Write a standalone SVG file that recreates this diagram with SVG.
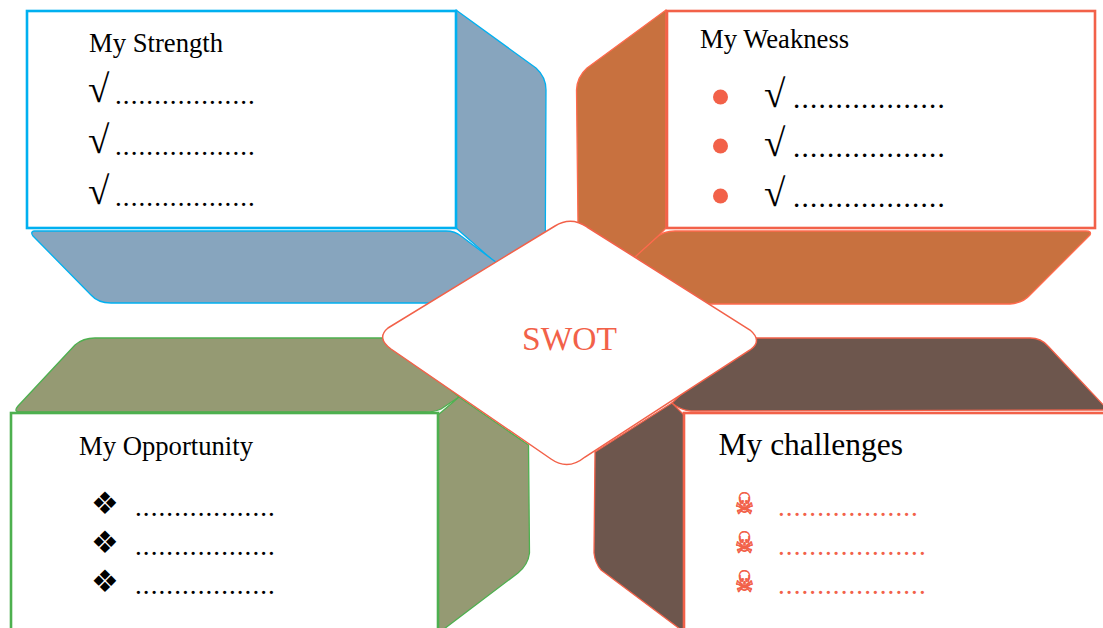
<svg xmlns="http://www.w3.org/2000/svg" width="1103" height="628" viewBox="0 0 1103 628">
<style>
.s{font-family:"Liberation Serif","Times New Roman",serif;fill:#000}
.t{font-size:26.67px}
.c{font-size:39px}
.d{font-size:27px;letter-spacing:1.08px}
.w{font-size:29px;letter-spacing:1.25px}
.r{fill:#f26149}
.g{font-family:"DejaVu Sans",sans-serif}
.dm{font-size:31px}
.sk{font-size:21px;stroke:#f26149;stroke-width:.6}
.box{fill:#fff;stroke-width:2.600}
.face{stroke-width:1.300;stroke-linejoin:round}
</style>
<rect width="1103" height="628" fill="#fff"/>
<g id="strength">
<path class="face" fill="#87a5be" stroke="#00b0f0" d="M456,10 L536,68 Q546,77 546,90 L545,300 L497,264 L456,228 Z"/>
<path class="face" fill="#87a5be" stroke="#00b0f0" d="M34,231 L446,231 Q455,231 461,236 L497,263 L430,303 L111,303 Q98,303 91,295 L33,236 Q30,232 34,231 Z"/>
<rect class="box" x="27" y="11" width="429" height="217" stroke="#00b0f0"/>
<text class="s t" x="89" y="52">My Strength</text>
<text class="s c" x="88" y="102">√</text><text class="s d" x="115" y="103.500">..................</text>
<text class="s c" x="88" y="153">√</text><text class="s d" x="115" y="154.500">..................</text>
<text class="s c" x="88" y="204">√</text><text class="s d" x="115" y="205.500">..................</text>
</g>
<g id="weakness">
<path class="face" fill="#c8713f" stroke="#ff6a4d" d="M666,10 L587,68 Q577,77 576.500,90 L578,225 L635,260 L666,228 Z"/>
<path class="face" fill="#c8713f" stroke="#ff6a4d" d="M635,257 L656,238 Q663,231 675,231 L1086,231 Q1092,231 1090,235 L1030,295 Q1023,303 1010,304 L700,304 Z"/>
<rect class="box" x="667" y="11" width="428" height="217" stroke="#f26149"/>
<text class="s t" x="700" y="48">My Weakness</text>
<circle class="r" cx="720.500" cy="97" r="7.500"/><circle class="r" cx="720.500" cy="146" r="7.500"/><circle class="r" cx="720.500" cy="196" r="7.500"/>
<text class="s c" x="764" y="107">√</text><text class="s w" x="793" y="108">..................</text>
<text class="s c" x="764" y="156">√</text><text class="s w" x="793" y="157">..................</text>
<text class="s c" x="764" y="206">√</text><text class="s w" x="793" y="207">..................</text>
</g>
<g id="opportunity">
<path class="face" fill="#959a73" stroke="#4db04f" d="M18,406 L75,345 Q83,338 95,338 L390,338 L459,397 L441,409 Q435,412 425,412 L20,412 Q13,412 18,406 Z"/>
<path class="face" fill="#959a73" stroke="#4db04f" d="M438,415 L459,397 L528.500,445 L529.500,553 Q528,565 518,573 L440,632 L438,632 Z"/>
<rect class="box" x="11" y="413" width="427" height="230" stroke="#4db04f"/>
<text class="s t" x="79" y="455">My Opportunity</text>
<text class="g dm" x="91" y="514">❖</text>
<text class="g dm" x="91" y="553">❖</text>
<text class="g dm" x="91" y="592">❖</text>
<text class="s d" x="135" y="516">..................</text>
<text class="s d" x="135" y="555">..................</text>
<text class="s d" x="135" y="594">..................</text>
</g>
<g id="challenges">
<path class="face" fill="#6d564d" stroke="#f26149" d="M672,403 L595,452 L594,553 Q595,563 601,570 L684,632 L684,415 Z"/>
<path class="face" fill="#6d564d" stroke="#f26149" d="M740,338 L1030,338 Q1041,338 1048,346 L1108,410 L691,411 Q680,410 672,403 Z"/>
<rect class="box" x="684" y="413" width="430" height="230" stroke="#f26149"/>
<text class="s" x="718.500" y="455" font-size="31.500">My challenges</text>
<text class="g r sk" transform="translate(735,514) scale(1,1.400)">☠</text>
<text class="g r sk" transform="translate(735,553) scale(1,1.400)">☠</text>
<text class="g r sk" transform="translate(735,592) scale(1,1.400)">☠</text>
<text class="s d r" x="778" y="516">..................</text>
<text class="s d r" x="778" y="555">...................</text>
<text class="s d r" x="778" y="594">...................</text>
</g>
<g id="swot">
<path fill="#fff" stroke="#f26149" stroke-width="1.500" d="M388,328 L555,226 Q571,216 587,227 L750,330 Q763,341 750,350 L585,457 Q568,471 551,459 L391,349 Q376,338 388,328 Z"/>
<text class="s r" x="522" y="350" font-size="33.500">SWOT</text>
</g>
</svg>
